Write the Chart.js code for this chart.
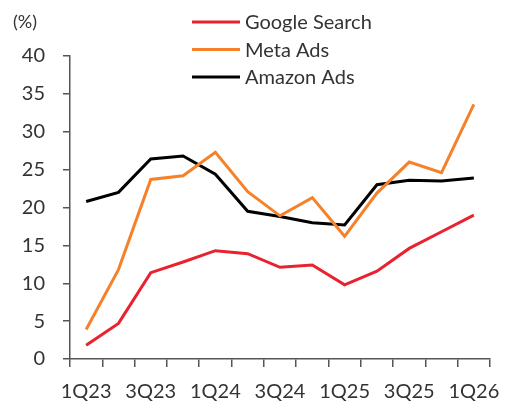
<!DOCTYPE html>
<html>
<head>
<meta charset="utf-8">
<script src="https://cdn.jsdelivr.net/npm/chart.js@4/dist/chart.umd.min.js"></script>
<style>
  html, body { margin: 0; padding: 0; background: #fff; }
  #wrap { width: 505px; height: 405px; position: relative; }
</style>
</head>
<body>
<div id="wrap"><canvas id="adChart" width="505" height="405"></canvas></div>
<script>
// quarters 1Q23 .. 1Q26
const quarters = ['1Q23', '2Q23', '3Q23', '4Q23', '1Q24', '2Q24', '3Q24', '4Q24', '1Q25', '2Q25', '3Q25', '4Q25', '1Q26'];
const googleSearch = [1.8, 4.7, 11.4, 12.8, 14.3, 13.9, 12.1, 12.4, 9.8, 11.6, 14.6, 16.8, 19.0];
const metaAds = [3.9, 11.8, 23.7, 24.2, 27.3, 22.1, 18.9, 21.3, 16.2, 21.9, 26.0, 24.6, 33.6];
const amazonAds = [20.8, 22.0, 26.4, 26.8, 24.4, 19.5, 18.8, 18.0, 17.7, 23.0, 23.6, 23.5, 23.9];
const yTicks = [0, 5, 10, 15, 20, 25, 30, 35, 40];

const FONT = "'Lato', 'Noto Sans', sans-serif";
const AXIS_COLOR = '#555555';

// legend drawn vertically + "(%)" unit label
const legendPlugin = {
    id: 'sideLegend',
    afterDraw: function (chart) {
        const ctx = chart.ctx;
        ctx.save();
        ctx.font = '18px ' + FONT;
        ctx.fillStyle = '#333333';
        ctx.textBaseline = 'middle';
        ctx.textAlign = 'left';
        ctx.fillText('(%)', 13, 22);
        ctx.font = '20px ' + FONT;
        chart.data.datasets.forEach(function (ds, i) {
            const y = 22 + i * 27.5;
            ctx.strokeStyle = ds.borderColor;
            ctx.lineWidth = 3;
            ctx.beginPath();
            ctx.moveTo(192, y);
            ctx.lineTo(240, y);
            ctx.stroke();
            ctx.fillStyle = '#333333';
            ctx.fillText(ds.label, 245, y + 1);
        });
        ctx.restore();
    }
};

const adChart = new Chart(document.getElementById('adChart'), {
    type: 'line',
    data: {
        labels: quarters,
        datasets: [{
            label: 'Google Search',
            data: googleSearch,
            borderColor: '#E8222E',
            borderWidth: 3,
            pointRadius: 0,
            tension: 0
        }, {
            label: 'Meta Ads',
            data: metaAds,
            borderColor: '#F5822A',
            borderWidth: 3,
            pointRadius: 0,
            tension: 0
        }, {
            label: 'Amazon Ads',
            data: amazonAds,
            borderColor: '#000000',
            borderWidth: 3,
            pointRadius: 0,
            tension: 0
        }]
    },
    options: {
        responsive: false,
        animation: false,
        layout: {
            padding: { top: 56, right: 15, left: 0, bottom: 0 }
        },
        plugins: {
            legend: { display: false },
            tooltip: { enabled: false }
        },
        scales: {
            x: {
                offset: true,
                grid: {
                    offset: true,
                    drawOnChartArea: false,
                    drawTicks: true,
                    tickLength: 8,
                    color: AXIS_COLOR,
                    lineWidth: 1.5
                },
                border: { color: AXIS_COLOR, width: 1.5 },
                ticks: {
                    autoSkip: false,
                    maxRotation: 0,
                    minRotation: 0,
                    padding: 13,
                    color: '#333333',
                    font: { family: FONT, size: 20 },
                    callback: function (value, index) {
                        return index % 2 === 0 ? quarters[index] : '';
                    }
                },
                afterFit: function (scale) {
                    scale.height = 46;
                    scale.paddingLeft = 0;
                    scale.paddingRight = 0;
                }
            },
            y: {
                min: 0,
                max: 40,
                afterBuildTicks: function (scale) {
                    scale.ticks = yTicks.map(function (v) { return { value: v }; });
                },
                grid: {
                    drawOnChartArea: false,
                    drawTicks: true,
                    tickLength: 7,
                    color: AXIS_COLOR,
                    lineWidth: 1.5
                },
                border: { color: AXIS_COLOR, width: 1.5 },
                ticks: {
                    padding: 18,
                    color: '#333333',
                    font: { family: FONT, size: 20 }
                },
                afterFit: function (scale) {
                    scale.width = 70;
                    scale.paddingTop = 0;
                    scale.paddingBottom = 0;
                }
            }
        }
    },
    plugins: [legendPlugin]
});
</script>
</body>
</html>
